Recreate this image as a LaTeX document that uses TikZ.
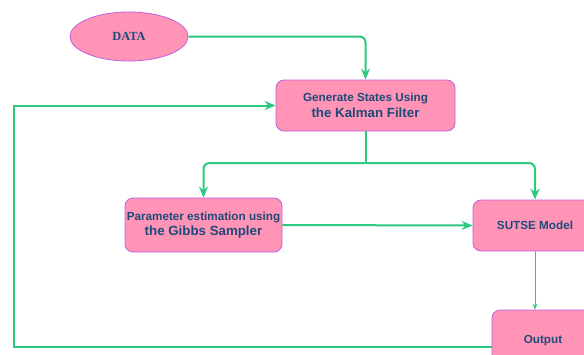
\documentclass[tikz,border=0pt]{standalone}
\usepackage{fontspec}
\setmainfont{Liberation Serif}
\setsansfont{Liberation Sans}
\usetikzlibrary{arrows.meta,shapes.geometric}
\definecolor{boxpink}{HTML}{FF94B6}
\definecolor{boxline}{HTML}{C060E0}
\definecolor{textblue}{HTML}{1E4A7A}
\definecolor{flowgreen}{HTML}{2DC97E}
\newcommand{\smalltxt}{\fontsize{11.7}{15.5}\selectfont}
\newcommand{\bigtxt}{\fontsize{13.3}{15.5}\selectfont}
\begin{document}
\begin{tikzpicture}[x=1pt,y=-1pt,
    stepbox/.style={draw=boxline, fill=boxpink, rounded corners=8pt, line width=0.8pt,
      text=textblue, font=\sffamily\bfseries\smalltxt, align=center, inner sep=1pt},
    databox/.style={ellipse, draw=boxline, fill=boxpink, line width=0.8pt,
      text=textblue, font=\rmfamily\bfseries\fontsize{12.4}{14}\selectfont,
      minimum width=118pt, minimum height=49pt},
    flow/.style={draw=flowgreen, line width=2pt, -{Stealth[length=11pt,width=9pt]}},
    thinflow/.style={draw=flowgreen, line width=1pt, -{Stealth[length=6pt,width=5pt]}}]
  \clip (0,0) rectangle (584,354);
  \fill[white] (0,0) rectangle (584,354);
  \node[databox] (data) at (129,36.5) {DATA};
  \node[stepbox, minimum width=179pt, minimum height=51pt] (kalman) at (365.5,105.5)
    {Generate States Using\\ \bigtxt the Kalman Filter};
  \node[stepbox, minimum width=157pt, minimum height=54pt] (gibbs) at (203.5,225)
    {Parameter estimation using\\ \bigtxt the Gibbs Sampler};
  \node[stepbox, minimum width=124pt, minimum height=51pt] (sutse) at (535,225.5) {SUTSE Model};
  \node[stepbox, minimum width=102pt, minimum height=62pt] (output) at (543,341) {Output};
  \coordinate (split) at (365.5,163);
  \coordinate (back) at (14,347);
  % connectors
  \draw[flow, rounded corners=6pt] (data.east) -| (kalman.north);
  \draw[draw=flowgreen, line width=2pt] (kalman.south) -- (split);
  \draw[flow, rounded corners=6pt] (split) -| (gibbs.north);
  \draw[flow, rounded corners=6pt] (split) -| (sutse.north);
  \draw[flow] (gibbs.east) -- (sutse.west);
  \draw[thinflow] (sutse.south) -- (sutse.south |- output.north);
  \draw[flow] ([yshift=-6pt]output.west) -- (back) |- (kalman.west);
\end{tikzpicture}
\end{document}
